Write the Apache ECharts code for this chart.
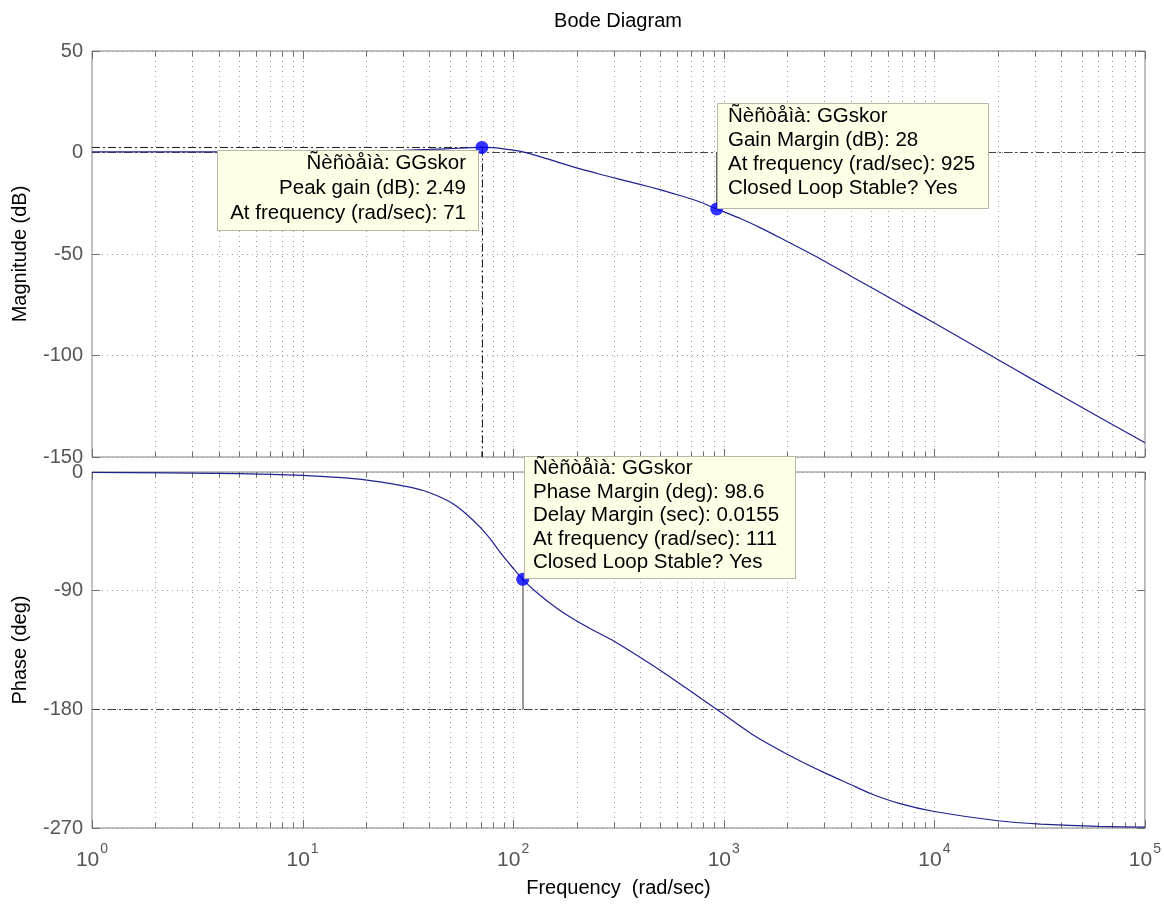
<!DOCTYPE html>
<html>
<head>
<meta charset="utf-8">
<script src="https://cdn.jsdelivr.net/npm/echarts@6/dist/echarts.min.js"></script>
<style>
  html, body { margin: 0; padding: 0; background: #ffffff; }
  #chart { width: 1164px; height: 904px; }
</style>
</head>
<body>
<div id="chart"></div>
<script>
// ---------- data ----------
const magFreq = [1, 3, 10, 20, 30, 40, 50, 60, 71, 80, 90, 100, 110, 134, 167, 208, 258, 321, 400, 498, 620, 771, 925, 1200, 1486, 1849, 2864, 4000, 6870, 10000, 18970, 30000, 50000, 100000];
const magDb   = [0.3, 0.3, 0.4, 0.7, 1.1, 1.5, 1.9, 2.3, 2.49, 2.4, 1.8, 1.2, 0.4, -2.0, -5.1, -8.1, -10.7, -13.2, -15.7, -18.3, -21.2, -24.4, -27.8, -32.5, -37, -42, -52.3, -60.8, -74.5, -84, -100.6, -112.5, -125.5, -143];

const phaseFreq = [1, 5, 10, 16, 23.3, 30, 37.4, 45, 52, 60, 69.6, 78, 86.5, 100, 111, 129, 160, 193, 240, 299, 400, 517, 700, 925, 1380, 2000, 3000, 4000, 5000, 6870, 10000, 20000, 32000, 60000, 100000];
const phaseDeg  = [-0.3, -1.2, -2.5, -4.5, -7.5, -10.5, -14, -19, -24.3, -32, -41.8, -51, -60.8, -73, -81.4, -91.2, -103, -111.5, -120, -128, -140.5, -152, -166.5, -180, -199.5, -214, -228, -237, -244, -251.5, -257.5, -264.5, -267, -268.8, -269.4];

const peakPoint = [71, 2.49];      // Peak gain
const gmPoint   = [925, -27.8];    // Gain margin point
const pmPoint   = [111, -81.4];    // Phase margin point

const freqRange = [1, 100000];
const magTicks = [-150, -100, -50, 0, 50];
const phaseTicks = [-270, -180, -90, 0];
const decades = [1, 10, 100, 1000, 10000, 100000];
const minorMultipliers = [2, 3, 4, 5, 6, 7, 8, 9];

const boxPeak = ['Ñèñòåìà: GGskor', 'Peak gain (dB): 2.49', 'At frequency (rad/sec): 71'];
const boxGM = ['Ñèñòåìà: GGskor', 'Gain Margin (dB): 28', 'At frequency (rad/sec): 925', 'Closed Loop Stable? Yes'];
const boxPM = ['Ñèñòåìà: GGskor', 'Phase Margin (deg): 98.6', 'Delay Margin (sec): 0.0155', 'At frequency (rad/sec): 111', 'Closed Loop Stable? Yes'];

// ---------- build ----------
const FONT = '"Liberation Sans", Arial, Helvetica, sans-serif';
const gridFreqs = [];
decades.forEach(function (d, i) {
  gridFreqs.push([d, 0, 1]);
  if (i < decades.length - 1) minorMultipliers.forEach(function (m) { gridFreqs.push([d * m, 0, 0]); });
});

function zip(a, b) { return a.map(function (v, i) { return [v, b[i]]; }); }

function gridRender(params, api) {
  const cs = params.coordSys;
  const f = api.value(0);
  const x = Math.round(api.coord([f, api.value(1)])[0]) + 0.5;
  const major = api.value(2) === 1;
  const top = cs.y, bot = cs.y + cs.height;
  const children = [];
  if (f > freqRange[0] * 1.0001 && f < freqRange[1] * 0.9999) {
    children.push({ type: 'line', shape: { x1: x, y1: top, x2: x, y2: bot },
      style: { stroke: '#9a9a9a', lineWidth: 1, lineDash: [1, 4] } });
  }
  const len = major ? 8 : 5;
  children.push({ type: 'line', shape: { x1: x, y1: top, x2: x, y2: top + len }, style: { stroke: '#707070', lineWidth: 1 } });
  children.push({ type: 'line', shape: { x1: x, y1: bot, x2: x, y2: bot - len }, style: { stroke: '#707070', lineWidth: 1 } });
  return { type: 'group', children: children };
}

const DASHDOT = [8, 3, 2, 3];

function yAxisDef(gridIndex, ticks, name, right) {
  return {
    type: 'value', gridIndex: gridIndex, position: right ? 'right' : 'left',
    min: ticks[0], max: ticks[ticks.length - 1], interval: ticks[1] - ticks[0],
    name: right ? '' : name, nameLocation: 'middle', nameGap: 62, nameRotate: 90,
    nameTextStyle: { fontFamily: FONT, fontSize: 20, color: '#000' },
    axisLine: { show: false },
    axisTick: { show: true, inside: true, length: 8, lineStyle: { color: '#707070' } },
    axisLabel: { show: !right, margin: 9, fontFamily: FONT, fontSize: 20, color: '#555' },
    splitLine: { show: !right, lineStyle: { color: '#9a9a9a', type: [1, 4] } }
  };
}

function textBox(x, y, w, h, lines, align, tx, lh) {
  return {
    type: 'group', z: 100,
    children: [
      { type: 'rect', z: 100, shape: { x: x + 0.5, y: y + 0.5, width: w, height: h },
        style: { fill: '#ffffe8', stroke: '#b8b8a8', lineWidth: 1 } },
      { type: 'text', z: 101, x: tx, y: y + 1,
        style: { text: lines.join('\n'), font: '20.5px ' + FONT, fill: '#000',
          textAlign: align, align: align, textVerticalAlign: 'top', verticalAlign: 'top', lineHeight: lh } }
    ]
  };
}

const chart = echarts.init(document.getElementById('chart'), null, { renderer: 'canvas' });
chart.setOption({
  animation: false,
  backgroundColor: '#ffffff',
  grid: [
    { left: 92, top: 51, width: 1053, height: 406, show: true, borderColor: '#808080', borderWidth: 1, backgroundColor: '#fff' },
    { left: 92, top: 472, width: 1053, height: 356, show: true, borderColor: '#808080', borderWidth: 1, backgroundColor: '#fff' }
  ],
  xAxis: [
    { type: 'log', logBase: 10, gridIndex: 0, min: freqRange[0], max: freqRange[1],
      axisLine: { show: false }, axisTick: { show: false }, axisLabel: { show: false }, splitLine: { show: false } },
    { type: 'log', logBase: 10, gridIndex: 1, min: freqRange[0], max: freqRange[1],
      name: 'Frequency  (rad/sec)', nameLocation: 'middle', nameGap: 50,
      nameTextStyle: { fontFamily: FONT, fontSize: 20, color: '#000' },
      axisLine: { show: false }, axisTick: { show: false }, splitLine: { show: false },
      axisLabel: {
        margin: 14, color: '#555', fontFamily: FONT,
        formatter: function (v) { return '{b|10}{s|' + Math.round(Math.log10(v)) + '}'; },
        rich: {
          b: { fontSize: 21, fontFamily: FONT, color: '#555' },
          s: { fontSize: 14, fontFamily: FONT, color: '#555', padding: [0, 0, 22, 1] }
        }
      } }
  ],
  yAxis: [
    yAxisDef(0, magTicks, 'Magnitude (dB)', false),
    yAxisDef(0, magTicks, '', true),
    yAxisDef(1, phaseTicks, 'Phase (deg)', false),
    yAxisDef(1, phaseTicks, '', true)
  ],
  series: [
    { type: 'custom', xAxisIndex: 0, yAxisIndex: 0, renderItem: gridRender, data: gridFreqs, silent: true, z: 1, encode: { x: 0, y: 1 } },
    { type: 'custom', xAxisIndex: 1, yAxisIndex: 2, renderItem: gridRender, data: gridFreqs, silent: true, z: 1, encode: { x: 0, y: 1 } },
    { name: 'mag', type: 'line', xAxisIndex: 0, yAxisIndex: 0, data: zip(magFreq, magDb),
      showSymbol: false, smooth: 0.2, lineStyle: { color: '#20208f', width: 1.2 }, z: 5,
      markLine: {
        silent: true, symbol: 'none', label: { show: false }, animation: false,
        data: [
          [{ coord: [freqRange[0], peakPoint[1]], lineStyle: { color: '#222', type: DASHDOT, width: 1 } }, { coord: peakPoint }],
          [{ coord: peakPoint, lineStyle: { color: '#222', type: DASHDOT, width: 1 } }, { coord: [peakPoint[0], magTicks[0]] }],
          [{ coord: [freqRange[0], 0], lineStyle: { color: '#444', type: DASHDOT, width: 1 } }, { coord: [freqRange[1], 0] }],
          [{ coord: [gmPoint[0], 0], lineStyle: { color: '#666', type: 'solid', width: 1 } }, { coord: gmPoint }]
        ]
      } },
    { name: 'phase', type: 'line', xAxisIndex: 1, yAxisIndex: 2, data: zip(phaseFreq, phaseDeg),
      showSymbol: false, smooth: 0.2, lineStyle: { color: '#20208f', width: 1.2 }, z: 5,
      markLine: {
        silent: true, symbol: 'none', label: { show: false }, animation: false,
        data: [
          [{ coord: [freqRange[0], -180], lineStyle: { color: '#444', type: DASHDOT, width: 1 } }, { coord: [freqRange[1], -180] }],
          [{ coord: pmPoint, lineStyle: { color: '#777', type: 'solid', width: 1.5 } }, { coord: [pmPoint[0], -180] }]
        ]
      } },
    { type: 'scatter', xAxisIndex: 0, yAxisIndex: 0, data: [peakPoint, gmPoint], symbol: 'circle', symbolSize: 13,
      itemStyle: { color: '#0000ff' }, z: 6 },
    { type: 'scatter', xAxisIndex: 1, yAxisIndex: 2, data: [pmPoint], symbol: 'circle', symbolSize: 13,
      itemStyle: { color: '#0000ff' }, z: 6 }
  ],
  graphic: [
    { type: 'text', x: 618, y: 21, z: 100,
      style: { text: 'Bode Diagram', font: '20px ' + FONT, fill: '#000', textAlign: 'center', align: 'center', textVerticalAlign: 'middle', verticalAlign: 'middle' } },
    textBox(217, 150, 261, 80, boxPeak, 'right', 466, 25),
    textBox(717, 103, 271, 105, boxGM, 'left', 728, 24),
    textBox(524, 456, 271, 122, boxPM, 'left', 533, 23.5)
  ]
});
</script>
</body>
</html>
